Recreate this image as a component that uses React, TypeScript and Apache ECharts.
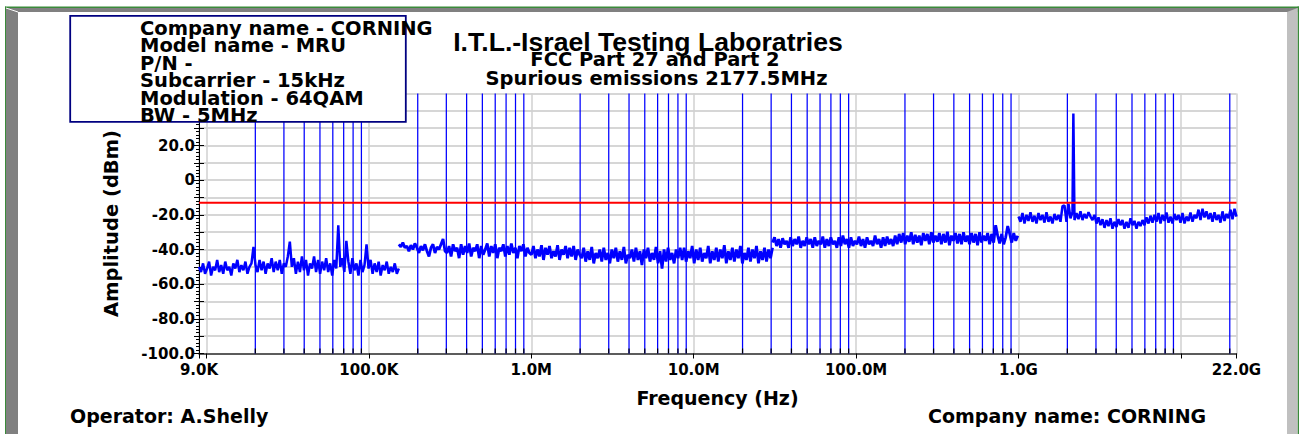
import React, { useEffect, useRef } from 'react';
import * as echarts from 'echarts';

// ---------------- data ----------------
// sweep ranges (Hz) of the four measured segments
const SEG1_RANGE = [9e3, 153e3];
const SEG2_RANGE = [153e3, 30.6e6];
const SEG3_RANGE = [30.6e6, 990e6];
const SEG4_RANGE = [1e9, 22e9];

const SEG1_LEVELS = [
  -50, -53, -48, -54, -51, -47, -55, -50, -52, -46, -53, -49, -54, -47, -52, -50, -55, -48, -51, -46, -53, -49, -52, -47, -54, -50, -48,
  -38.5,
  -49, -53, -46, -52, -47, -54, -48, -51, -45, -53, -47, -52, -46, -54, -48, -50, -44,
  -35.5,
  -50, -45, -54, -47, -53, -44, -52, -46, -55, -48, -51, -44, -53, -46, -54, -47, -52, -45, -53, -48, -55, -46, -51,
  -26,
  -50, -45, -53,
  -35,
  -47, -54, -45, -52, -48, -55, -46, -53, -49,
  -37,
  -51, -46, -54, -48, -53, -47, -55, -49, -52, -47, -54, -50, -53, -48, -54, -51,
];

const SEG2_LEVELS = [
  -37, -38.5, -36, -39, -38, -41, -37.5, -40, -36.5, -39, -42, -38, -40.5, -37, -41, -44, -39, -37, -42, -38.5, -40, -37, -34, -41,
  -42, -38, -44, -37, -41, -39, -45, -37, -43, -38, -42, -36.5, -44, -39, -41, -37, -45, -38, -43, -40, -36.5, -44, -38, -42, -37, -45, -39, -41, -37, -44, -38, -43, -36.5, -42, -39, -45, -38, -41, -37, -44, -39, -42,
  -43, -38, -45, -40, -44, -37.5, -46, -39, -43, -38, -45, -41, -44, -37.5, -46, -40, -43, -38, -45, -39, -44, -38, -46, -40, -43,
  -45, -39, -47, -41, -46, -38.5, -48, -42, -45, -40, -47, -39, -46, -42, -48, -40, -45, -39, -47, -41,
  -46, -38.5, -48, -43, -45, -40, -47, -39, -46, -41, -49, -40, -45, -39, -47, -42, -46, -38.5, -48, -41,
  -51, -40, -47, -39, -46, -42, -48, -40, -45, -39,
  -46, -39, -47, -41, -45, -38, -48, -40, -46, -39, -47, -42, -45, -38, -48, -41, -46, -39, -47, -40,
  -45, -37.5, -48, -41, -46, -39, -47, -40, -45, -38, -48, -42, -46, -39, -47, -40, -45, -38, -48, -41,
  -46, -39, -47, -40, -45, -39,
];

const SEG3_LEVELS = [
  -36, -33, -38, -34, -39, -33.5, -37, -35, -39, -33,
  -38, -34, -37, -32.5, -39, -35, -38, -33, -37, -34,
  -39, -33, -38, -35, -37, -32.5, -39, -34, -38, -33,
  -37, -35, -39, -33, -38, -32, -37, -34, -39, -33,
  -38, -35, -37, -32.5, -38, -34, -39, -33, -37, -35,
  -38, -32, -37, -34, -39, -33, -38, -32.5, -37, -34,
  -38, -32, -37,
  -31, -36, -30.5, -37, -32, -35.5, -30, -37, -31.5, -36,
  -32, -37.5, -30.5, -35, -31, -37, -30, -36, -32, -35.5,
  -30.5, -37, -31, -36, -29.8, -37.5, -32, -35, -30.5, -36.5,
  -31, -37, -30, -35.5, -32, -37, -30.5, -36, -31, -37.5,
  -30, -36, -32, -35, -30.5, -37, -31, -36,
  -26,
  -32, -36.5, -31, -37, -33,
  -26.5,
  -31, -36, -30.5, -35, -32,
];

const SEG4_LEVELS = [
  -21, -24, -19, -25, -20, -23.5, -18.5, -24, -20.5, -25,
  -19, -23, -20, -24.5, -18.5, -24, -21, -25, -19.5, -23,
  -20, -24,
  -15, -14.5, -24, -13.5,
  -22, -18.5, -23, -19, -22.5, -18, -23, -19.5, -22, -18.5, -21,
  -23, -20, -25, -21.5,
  -26, -22.5, -27.5, -23, -26.5, -22, -28, -24, -27, -22.5,
  -26, -23, -28, -24, -27.5, -22, -26, -23.5, -28, -24,
  -26.5,
  -23, -26, -21.5, -25, -20.5, -24.5, -20,
  -24, -19, -25, -20, -23.5, -18.7, -24.5, -21, -25, -19.5,
  -23, -20, -24.5, -19, -25, -21, -23.5, -18.7, -24, -20,
  -22, -17, -23, -16.5, -21.5, -18, -22.5,
  -19, -24, -18.5, -23, -20, -24.5, -18, -23.5, -19.5, -22,
  -17, -22.5, -16.5, -21,
];

// carrier (fundamental) peak at 2177.5 MHz
const CARRIER_FREQ = 2177.5e6;
const CARRIER_LEVEL = 38.5;

// FCC limit line
const LIMIT_LEVEL = -13;

// axes
const X_MIN = 9e3;
const X_MAX = 22e9;
const Y_MIN = -100;
const Y_MAX = 50;
const Y_STEP = 10;
const X_TICK_LABELS: [number, string][] = [
  [9e3, '9.0K'], [1e5, '100.0K'], [1e6, '1.0M'], [1e7, '10.0M'],
  [1e8, '100.0M'], [1e9, '1.0G'], [22e9, '22.0G'],
];
const DECADES = [1e4, 1e5, 1e6, 1e7, 1e8, 1e9, 1e10];
const MINOR_MULTIPLIERS = [2, 3, 4, 5, 6, 7, 8, 9];

// texts
const TITLE = 'I.T.L.-Israel Testing Laboratries';
const SUBTITLES = ['FCC Part 27 and Part 2', 'Spurious emissions 2177.5MHz'];
const INFO_LINES = [
  'Company name - CORNING', 'Model name - MRU', 'P/N -',
  'Subcarrier - 15kHz', 'Modulation - 64QAM', 'BW - 5MHz',
];
const X_NAME = 'Frequency (Hz)';
const Y_NAME = 'Amplitude (dBm)';
const OPERATOR = 'Operator: A.Shelly';
const COMPANY = 'Company name: CORNING';

// ---------------- helpers ----------------
function sweep(range: number[], levels: number[]) {
  const [f0, f1] = range;
  const n = levels.length;
  return levels.map((v, i) => [f0 * Math.pow(f1 / f0, i / (n - 1)), v]);
}

const MINOR_FREQS = DECADES.flatMap((d) => MINOR_MULTIPLIERS.map((m) => m * d)).filter(
  (f) => f > X_MIN && f < X_MAX,
);

function xLabel(v: number) {
  for (const [f, s] of X_TICK_LABELS) {
    if (Math.abs(Math.log10(v) - Math.log10(f)) < 0.005) return s;
  }
  return '';
}

function yLabel(v: number) {
  if (Math.round(v) % 20 !== 0) return '';
  return v === 0 ? '0' : v.toFixed(1);
}

const DV = 'DejaVu Sans';
const LIB = 'Liberation Sans';
const TRACE = '#0000ff';

export default function App() {
  const ref = useRef<HTMLDivElement>(null);

  useEffect(() => {
    if (!ref.current) return;
    const chart = echarts.init(ref.current, undefined, { renderer: 'svg' });

    const seg4 = sweep(SEG4_RANGE, SEG4_LEVELS);
    seg4.push([CARRIER_FREQ, CARRIER_LEVEL]);
    seg4.sort((a, b) => a[0] - b[0]);

    const traceSeries = (name: string, data: number[][], width: number) => ({
      name,
      type: 'line',
      data,
      showSymbol: false,
      symbol: 'none',
      silent: true,
      z: 3,
      lineStyle: { color: TRACE, width },
    });

    const textStyle = (size: number, family = DV) => ({
      fill: '#000',
      fontSize: size,
      fontFamily: family,
      fontWeight: 'bold',
    });

    const option: any = {
      animation: false,
      backgroundColor: '#ffffff',
      grid: { left: 199, right: 65.5, top: 93.5, bottom: 80.5 },
      xAxis: {
        type: 'log',
        logBase: 10,
        min: X_MIN,
        max: X_MAX,
        axisLine: { onZero: false, lineStyle: { color: '#333', width: 1.5 } },
        axisTick: { show: true, length: 5, lineStyle: { color: '#000', width: 1 } },
        axisLabel: {
          formatter: xLabel,
          color: '#000',
          fontFamily: DV,
          fontWeight: 'bold',
          fontSize: 15,
          margin: 9,
          showMinLabel: true,
          showMaxLabel: true,
        },
        splitLine: { show: true, lineStyle: { color: '#d0d0d0', width: 1.5 } },
        minorTick: { show: false },
        minorSplitLine: { show: false },
      },
      yAxis: [
        {
          type: 'value',
          min: Y_MIN,
          max: Y_MAX,
          interval: Y_STEP,
          axisLine: { show: true, onZero: false, lineStyle: { color: '#000', width: 1 } },
          axisTick: { show: true, length: 5, lineStyle: { color: '#000' } },
          minorTick: { show: true, splitNumber: 5, length: 3, lineStyle: { color: '#000' } },
          axisLabel: {
            formatter: yLabel,
            color: '#000',
            fontFamily: DV,
            fontWeight: 'bold',
            fontSize: 15,
            margin: 4,
            padding: [4, 0, 0, 0],
          },
          splitLine: { show: true, lineStyle: { color: '#c8c8c8', width: 1.5 } },
        },
        {
          type: 'value',
          min: Y_MIN,
          max: Y_MAX,
          interval: Y_STEP,
          position: 'left',
          axisLine: { show: false, onZero: false },
          axisTick: { show: true, inside: true, length: 5, lineStyle: { color: '#000' } },
          minorTick: { show: false },
          axisLabel: { show: false },
          splitLine: { show: false },
        },
      ],
      series: [
        {
          name: 'Minor grid',
          type: 'custom',
          silent: true,
          z: 1,
          data: MINOR_FREQS.map((f) => [f, Y_MIN]),
          encode: { x: 0, y: 1 },
          renderItem: (_p: any, api: any) => {
            const f = api.value(0);
            const top = api.coord([f, Y_MAX]);
            const bot = api.coord([f, Y_MIN]);
            const x = top[0];
            return {
              type: 'group',
              children: [
                { type: 'line', shape: { x1: x, y1: top[1], x2: x, y2: bot[1] }, style: { stroke: TRACE, lineWidth: 1.25 } },
                { type: 'line', shape: { x1: x, y1: bot[1], x2: x, y2: bot[1] - 5 }, style: { stroke: '#000', lineWidth: 1.2 } },
              ],
            };
          },
        },
        traceSeries('Trace 9kHz-150kHz', sweep(SEG1_RANGE, SEG1_LEVELS), 2.5),
        traceSeries('Trace 150kHz-30MHz', sweep(SEG2_RANGE, SEG2_LEVELS), 2.8),
        traceSeries('Trace 30MHz-1GHz', sweep(SEG3_RANGE, SEG3_LEVELS), 2.8),
        traceSeries('Trace 1GHz-22GHz', seg4, 2.5),
        {
          name: 'Limit',
          type: 'line',
          data: [[X_MIN, LIMIT_LEVEL], [X_MAX, LIMIT_LEVEL]],
          showSymbol: false,
          symbol: 'none',
          silent: true,
          z: 4,
          lineStyle: { color: '#ff0000', width: 2 },
        },
      ],
      graphic: [
        // window frame
        { type: 'rect', z: 50, silent: true, shape: { x: 5, y: 6.5, width: 1294, height: 1.5 }, style: { fill: '#3a8a3a' } },
        { type: 'rect', z: 50, silent: true, shape: { x: 5, y: 6.5, width: 1, height: 430 }, style: { fill: '#3a8a3a' } },
        { type: 'rect', z: 50, silent: true, shape: { x: 1297.5, y: 6.5, width: 1.5, height: 430 }, style: { fill: '#3a8a3a' } },
        { type: 'rect', z: 50, silent: true, shape: { x: 6, y: 8, width: 1291.5, height: 4 }, style: { fill: '#808080' } },
        { type: 'rect', z: 50, silent: true, shape: { x: 6, y: 8, width: 12, height: 430 }, style: { fill: '#808080' } },
        { type: 'polygon', z: 51, silent: true, shape: { points: [[1287, 12], [1297.5, 8], [1297.5, 434], [1287, 434]] }, style: { fill: '#c0c0c0' } },
        { type: 'line', z: 52, silent: true, shape: { x1: 6, y1: 8, x2: 18, y2: 12 }, style: { stroke: '#ffffff', lineWidth: 1 } },
        // info box
        {
          type: 'rect', z: 60, silent: true,
          shape: { x: 70.2, y: 15.8, width: 335.6, height: 106 },
          style: { fill: '#ffffff', stroke: '#000080', lineWidth: 1.8 },
        },
        {
          type: 'text', z: 61, silent: true, x: 140, y: 19.5,
          style: { ...textStyle(19.5), text: INFO_LINES.join('\n'), lineHeight: 17.5, align: 'left', verticalAlign: 'top' },
        },
        // titles
        {
          type: 'text', z: 61, silent: true, x: 648, y: 41.5,
          style: { ...textStyle(26.6, LIB), text: TITLE, align: 'center', verticalAlign: 'middle' },
        },
        {
          type: 'text', z: 61, silent: true, x: 655, y: 59.8,
          style: { ...textStyle(19.5), text: SUBTITLES[0], align: 'center', verticalAlign: 'middle' },
        },
        {
          type: 'text', z: 61, silent: true, x: 656.5, y: 78.2,
          style: { ...textStyle(19.5), text: SUBTITLES[1], align: 'center', verticalAlign: 'middle' },
        },
        // axis names
        {
          type: 'text', z: 61, silent: true, x: 111.8, y: 223.5, rotation: Math.PI / 2,
          style: { ...textStyle(19.5), text: Y_NAME, align: 'center', verticalAlign: 'middle' },
        },
        {
          type: 'text', z: 61, silent: true, x: 717.5, y: 398.4,
          style: { ...textStyle(19), text: X_NAME, align: 'center', verticalAlign: 'middle' },
        },
        // footer
        {
          type: 'text', z: 61, silent: true, x: 70, y: 416.4,
          style: { ...textStyle(19), text: OPERATOR, align: 'left', verticalAlign: 'middle' },
        },
        {
          type: 'text', z: 61, silent: true, x: 928, y: 416.4,
          style: { ...textStyle(19), text: COMPANY, align: 'left', verticalAlign: 'middle' },
        },
      ],
    };

    chart.setOption(option);
    return () => chart.dispose();
  }, []);

  return (
    <div
      ref={ref}
      style={{ position: 'absolute', left: 0, top: 0, width: 1302, height: 434, background: '#ffffff' }}
    />
  );
}
